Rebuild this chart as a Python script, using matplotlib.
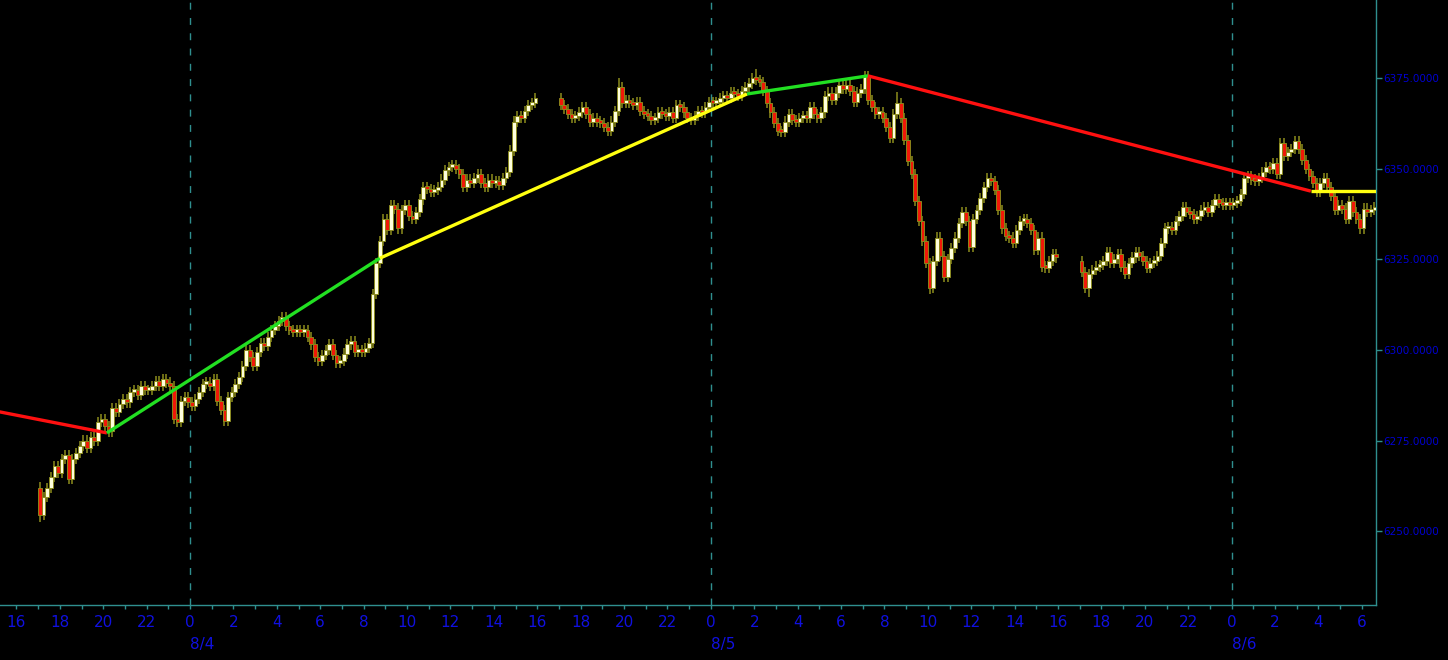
import numpy as np
import matplotlib
matplotlib.use("Agg")
import matplotlib.pyplot as plt
from matplotlib.transforms import blended_transform_factory

# ---------------- data (10-minute candles, time in hours from 8/4 00:00) ----------------
seg_start = [-7.0, 17.0, 41.0]          # 8/3 17:00, 8/4 17:00, 8/5 17:00
seg_open0 = [6262.0, 6369.5, 6324.5]

close_a = [
    6254.5, 6259.5, 6262, 6265, 6268, 6266,
    6270, 6271, 6264.5, 6270, 6271.5, 6273.5,
    6275, 6273, 6276, 6275, 6280, 6281,
    6279, 6277.5, 6284, 6283, 6285, 6286.5,
    6285.5, 6288.5, 6289, 6287.5, 6290, 6289,
    6289, 6290, 6291.5, 6290, 6292, 6291,
    6290, 6281, 6280, 6286, 6287, 6285.5,
    6284.5, 6286.5, 6288.5, 6290.5, 6291, 6290,
    6292, 6286, 6283.5, 6280.5, 6287, 6288.5,
    6290.5, 6292.5, 6295.5, 6300, 6298, 6295.5,
    6299.5, 6302, 6301, 6303.5, 6305.5, 6306.5,
    6308, 6309, 6306.5, 6305.5, 6305, 6305.5,
    6305, 6305.5, 6303.5, 6301.5, 6298, 6297,
    6298.5, 6300, 6301.5, 6298.5, 6296.5, 6297,
    6299, 6301.5, 6302.5, 6299.5, 6300, 6299.5,
    6300.5, 6302, 6315.5, 6324, 6330, 6336,
    6333, 6340, 6339, 6333.5, 6338.5, 6340,
    6337, 6336, 6338, 6341.5, 6345, 6344.5,
    6343.5, 6344, 6345, 6347, 6349.5, 6350.5,
    6351, 6350, 6348.5, 6345, 6347, 6346,
    6347.5, 6348.5, 6346, 6345, 6347, 6346,
    6346.5, 6345.5, 6347.5, 6349, 6355, 6363,
    6364.5, 6364, 6366, 6367.5, 6368, 6369.5,
]

close_b = [
    6367.5, 6366.5, 6365, 6364, 6364.5, 6365.5,
    6367, 6365, 6363, 6364, 6363, 6362.5,
    6361.5, 6360.5, 6363, 6366, 6372.5, 6368,
    6369, 6368, 6367.5, 6368.5, 6366, 6365,
    6364.5, 6363.5, 6364, 6365.5, 6365, 6364.5,
    6365.5, 6364, 6367.5, 6367, 6365.5, 6364,
    6363.5, 6364.5, 6366, 6365.5, 6367, 6368.5,
    6368, 6368.5, 6369.5, 6370, 6369.5, 6371,
    6370.5, 6370, 6371.5, 6372.5, 6373.5, 6375,
    6374.5, 6374, 6371.5, 6368, 6365.5, 6362.5,
    6360.5, 6360, 6363, 6365, 6363.5, 6363,
    6364, 6364.5, 6364, 6367, 6365, 6364,
    6365.5, 6370, 6371, 6369, 6371, 6373,
    6372, 6373, 6371.5, 6368.5, 6371, 6372,
    6375.5, 6369, 6367, 6365, 6365.5, 6364,
    6361.5, 6358.5, 6365, 6368, 6364, 6358,
    6352, 6348.5, 6341, 6335.5, 6330, 6324,
    6317, 6324.5, 6331, 6326, 6320, 6325,
    6328, 6331, 6335, 6338, 6335.5, 6328.5,
    6336, 6338.5, 6342, 6345, 6347.5, 6346.5,
    6344, 6338.5, 6333.5, 6331.5, 6331, 6329.5,
    6333, 6335.5, 6336, 6335, 6333, 6327.5,
    6331, 6323, 6322.5, 6324.5, 6326.5, 6325.5,
]

close_c = [
    6321.5, 6317, 6321, 6322, 6323, 6323.5,
    6324.5, 6327, 6324, 6325, 6326.5, 6323,
    6321, 6324, 6325.5, 6327, 6326, 6324.5,
    6322.5, 6324, 6324.5, 6326, 6329.5, 6333.5,
    6334, 6333, 6335.5, 6337, 6339.5, 6338,
    6337.5, 6336, 6337, 6338.5, 6339.5, 6338,
    6340, 6341.5, 6340.5, 6340, 6340.5, 6340,
    6340.5, 6341, 6343, 6347.5, 6348, 6347,
    6346.5, 6347.5, 6349, 6350.5, 6350, 6351.5,
    6348.5, 6357, 6353.5, 6354.5, 6355.5, 6357.5,
    6355.5, 6352.5, 6350, 6348, 6346, 6343.5,
    6346, 6347.5, 6345, 6342.5, 6338.5, 6340,
    6339, 6336, 6341, 6338, 6336, 6333.5,
    6339, 6338, 6338.5, 6339.5,
]

# notable wick extremes (time in hours, price)
spike_highs = [(-7.0, 6263.5), (19.667, 6375.0), (26.0, 6377.5), (31.167, 6376.0),
               (32.5, 6371.2), (50.833, 6358.5)]
spike_lows = [(-7.0, 6252.5), (-3.833, 6276.5), (1.5, 6280.0), (32.167, 6357.5),
              (34.0, 6315.5), (41.333, 6314.5), (53.833, 6332.5)]
wick = 1.4

# zigzag pivots
piv_t = [-12.0, -3.83, 8.75, 25.67, 31.24, 51.65, 60.0]
piv_p = [6286.7, 6277.1, 6325.3, 6370.6, 6375.6, 6343.8, 6343.8]
piv_col = ["#ff1010", "#22e022", "#ffff10", "#22e022", "#ff1010", "#ffff10"]

price_ticks = [6250, 6275, 6300, 6325, 6350, 6375]
day_marks = [0, 24, 48]
day_labels = ["8/4", "8/5", "8/6"]

# ---------------- build OHLC ----------------
tt, oo, hh, ll, cc = [], [], [], [], []
for st, op, cl in zip(seg_start, seg_open0, [close_a, close_b, close_c]):
    prev = op
    for k, cv in enumerate(cl):
        tt.append(st + k / 6.0)
        oo.append(prev)
        cc.append(cv)
        hh.append(max(prev, cv) + wick)
        ll.append(min(prev, cv) - wick)
        prev = cv
tt = np.array(tt); oo = np.array(oo); cc = np.array(cc)
hh = np.array(hh); ll = np.array(ll)
for t0, v in spike_highs:
    i = np.argmin(np.abs(tt - t0)); hh[i] = max(hh[i], v)
for t0, v in spike_lows:
    i = np.argmin(np.abs(tt - t0)); ll[i] = min(ll[i], v)

# ---------------- figure ----------------
BG = "black"
TEAL = "#2f8f8f"
BLUE = "#1010e0"
OLIVE = "#8c8c1c"

fig = plt.figure(figsize=(14.48, 6.60), dpi=100, facecolor=BG)
ax = fig.add_axes([0.0, 55 / 660, 1376 / 1448, 605 / 660])
ax.set_facecolor(BG)

x0, x1 = -8.756, 54.654
ax.set_xlim(x0, x1)
ax.set_ylim(6229.63, 6396.52)

for d in day_marks:
    ax.axvline(d, color=TEAL, lw=1.0, ls=(0, (5, 6)), zorder=1)

xc = tt + 1 / 12.0
ax.vlines(xc, ll, hh, color=OLIVE, lw=1.1, zorder=2)
up = cc >= oo
body_bot = np.minimum(oo, cc)
body_h = np.maximum(np.abs(cc - oo), 0.8)
ax.bar(xc[up], body_h[up], bottom=body_bot[up], width=0.17, color="#ffffdc",
       edgecolor=OLIVE, linewidth=0.65, zorder=3)
ax.bar(xc[~up], body_h[~up], bottom=body_bot[~up], width=0.17, color="#f01808",
       edgecolor=OLIVE, linewidth=0.65, zorder=3)

for i in range(len(piv_col)):
    ax.plot(piv_t[i:i + 2], piv_p[i:i + 2], color=piv_col[i], lw=2.4,
            solid_capstyle="butt", zorder=5)

# spines
for s in ["top", "left"]:
    ax.spines[s].set_visible(False)
for s in ["right", "bottom"]:
    ax.spines[s].set_color(TEAL)
    ax.spines[s].set_linewidth(1.0)

# x ticks
major = np.arange(-8, 55, 2)
ax.set_xticks(major)
ax.set_xticklabels([str(int(h) % 24) for h in major])
ax.set_xticks(np.arange(-8, 55, 1), minor=True)
ax.tick_params(axis="x", which="both", colors=TEAL, length=3, width=1,
               labelcolor=BLUE, labelsize=11, pad=4)

# y ticks on right
ax.yaxis.tick_right()
ax.set_yticks(price_ticks)
ax.set_yticklabels([f"{p:.4f}" for p in price_ticks])
ax.tick_params(axis="y", colors=TEAL, length=4, width=1, labelcolor="#0000d0",
               labelsize=7.5, pad=1)

trans = blended_transform_factory(ax.transData, ax.transAxes)
for d, lab in zip(day_marks, day_labels):
    ax.text(d, -40 / 605, lab, transform=trans, ha="left", va="center",
            color=BLUE, fontsize=11)

fig.savefig("out.png", dpi=100, facecolor=BG)
